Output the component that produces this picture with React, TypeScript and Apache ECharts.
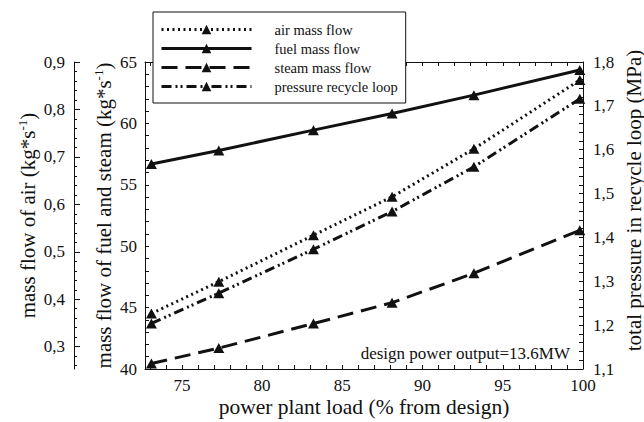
import { useEffect, useRef } from 'react';
import * as echarts from 'echarts';

// Power plant part-load behaviour (load in % of design)
const loadPct = [73.1, 77.3, 83.2, 88.1, 93.2, 99.8];
const airFlow = [0.37, 0.437, 0.535, 0.616, 0.717, 0.862];
const fuelFlow = [56.7, 57.8, 59.45, 60.8, 62.3, 64.35];
const steamFlow = [40.45, 41.7, 43.7, 45.4, 47.8, 51.3];
const recyclePressure = [1.204, 1.273, 1.373, 1.459, 1.561, 1.716];

const seriesNames = ['air mass flow', 'fuel mass flow', 'steam mass flow', 'pressure recycle loop'];

const loadTicks = [75, 80, 85, 90, 95, 100];
const airTicks = [0.3, 0.4, 0.5, 0.6, 0.7, 0.8, 0.9];

const FONT = '"Liberation Serif", "Times New Roman", serif';
const INK = '#111';

const loadMinorTicks: number[] = [];
for (let v = 73; v <= 100; v++) loadMinorTicks.push(v);

const airMinorTicks: number[] = [];
for (let i = 13; i <= 45; i++) if (i % 5 !== 0) airMinorTicks.push(i / 50);

const comma = (v: number) => v.toFixed(1).replace('.', ',');

const nameStyle = {
  fontFamily: FONT,
  fontSize: 21,
  color: INK,
  lineHeight: 24,
  rich: {
    sup: { fontFamily: FONT, fontSize: 13, lineHeight: 13, color: INK, verticalAlign: 'top' },
  },
};

const labelStyle = { fontFamily: FONT, fontSize: 17, color: INK };

function lineSeries(name: string, values: number[], yAxisIndex: number, dash: number[] | 'solid') {
  return {
    name,
    type: 'line',
    xAxisIndex: 0,
    yAxisIndex,
    data: loadPct.map((x, i) => [x, values[i]]),
    symbol: 'triangle',
    symbolSize: [11, 10],
    clip: false,
    itemStyle: { color: INK },
    lineStyle: { color: INK, width: 3, type: dash, cap: 'butt' },
    z: 3,
  };
}

export default function App() {
  const ref = useRef<HTMLDivElement>(null);

  useEffect(() => {
    const chart = echarts.init(ref.current!, null, { renderer: 'svg' });
    chart.setOption({
      animation: false,
      backgroundColor: '#fff',
      textStyle: { fontFamily: FONT, color: INK },
      grid: { left: 145, right: 61, top: 62, bottom: 53, containLabel: false, outerBoundsMode: 'none' },
      legend: {
        orient: 'vertical',
        left: 153,
        top: 12,
        itemWidth: 90,
        itemHeight: 12,
        itemGap: 4,
        padding: [10, 8, 9, 7],
        backgroundColor: '#fff',
        borderColor: INK,
        borderWidth: 1,
        borderRadius: 0,
        textStyle: { fontFamily: FONT, fontSize: 14.5, color: INK, padding: [0, 0, 0, 18] },
        lineStyle: { width: 'inherit' },
        data: seriesNames,
      },
      xAxis: [
        {
          type: 'value',
          position: 'bottom',
          min: 72.7,
          max: 100,
          name: 'power plant load (% from design)',
          nameLocation: 'middle',
          nameGap: 27,
          nameMoveOverlap: false,
          nameTextStyle: { fontFamily: FONT, fontSize: 21.5, color: INK },
          axisLine: { show: true, lineStyle: { color: INK, width: 1 } },
          axisTick: { show: true, inside: true, length: 4, customValues: loadMinorTicks, lineStyle: { color: INK } },
          axisLabel: { ...labelStyle, margin: 8, customValues: loadTicks },
          splitLine: { show: false },
        },
        {
          type: 'value',
          position: 'top',
          min: 72.7,
          max: 100,
          axisLine: { show: true, lineStyle: { color: INK, width: 1 } },
          axisTick: { show: true, inside: true, length: 4, customValues: loadMinorTicks, lineStyle: { color: INK } },
          axisLabel: { show: false },
          splitLine: { show: false },
        },
      ],
      yAxis: [
        {
          type: 'value',
          position: 'left',
          min: 40,
          max: 65,
          interval: 5,
          name: 'mass flow of fuel and steam (kg*s{sup|-1})',
          nameLocation: 'middle',
          nameGap: 29,
          nameMoveOverlap: false,
          nameTextStyle: nameStyle,
          axisLine: { show: true, lineStyle: { color: INK, width: 1 } },
          axisTick: { show: true, inside: true, length: 4, lineStyle: { color: INK } },
          minorTick: { show: true, splitNumber: 5, length: 4, lineStyle: { color: INK } },
          axisLabel: { ...labelStyle, margin: 8 },
          splitLine: { show: false },
        },
        {
          type: 'value',
          position: 'left',
          offset: 71,
          min: 0.253,
          max: 0.9,
          name: 'mass flow of air (kg*s{sup|-1})',
          nameLocation: 'middle',
          nameGap: 34,
          nameMoveOverlap: false,
          nameTextStyle: nameStyle,
          axisLine: { show: true, lineStyle: { color: INK, width: 1 } },
          axisTick: { show: true, inside: true, length: 6, customValues: airTicks, lineStyle: { color: INK } },
          axisLabel: { ...labelStyle, margin: 9, customValues: airTicks, formatter: (v: number) => comma(v) },
          splitLine: { show: false },
        },
        {
          type: 'value',
          position: 'left',
          offset: 71,
          min: 0.253,
          max: 0.9,
          axisLine: { show: false },
          axisTick: { show: true, inside: true, length: 3, customValues: airMinorTicks, lineStyle: { color: INK } },
          axisLabel: { show: false },
          splitLine: { show: false },
        },
        {
          type: 'value',
          position: 'right',
          min: 1.1,
          max: 1.8,
          interval: 0.1,
          name: 'total pressure in recycle loop (MPa)',
          nameLocation: 'middle',
          nameGap: 40,
          nameMoveOverlap: false,
          nameTextStyle: { fontFamily: FONT, fontSize: 21, color: INK, padding: [0, 0, 0, 30] },
          axisLine: { show: true, lineStyle: { color: INK, width: 1 } },
          axisTick: { show: true, inside: true, length: 4, lineStyle: { color: INK } },
          minorTick: { show: true, splitNumber: 5, length: 4, lineStyle: { color: INK } },
          axisLabel: { ...labelStyle, margin: 10, formatter: (v: number) => comma(v) },
          splitLine: { show: false },
        },
      ],
      graphic: [
        {
          type: 'text',
          x: 570,
          y: 353.6,
          z: 10,
          style: {
            text: 'design power output=13.6MW',
            font: '17px "Liberation Serif", serif',
            fill: INK,
            align: 'right',
            verticalAlign: 'middle',
          },
        },
      ],
      series: [
        lineSeries(seriesNames[0], airFlow, 1, [2, 3.5]),
        lineSeries(seriesNames[1], fuelFlow, 0, 'solid'),
        lineSeries(seriesNames[2], steamFlow, 0, [16, 8]),
        lineSeries(seriesNames[3], recyclePressure, 3, [10, 4, 2, 3, 2, 4]),
      ],
    });
    return () => chart.dispose();
  }, []);

  return <div ref={ref} style={{ position: 'fixed', left: 0, top: 0, width: 644, height: 422 }} />;
}
